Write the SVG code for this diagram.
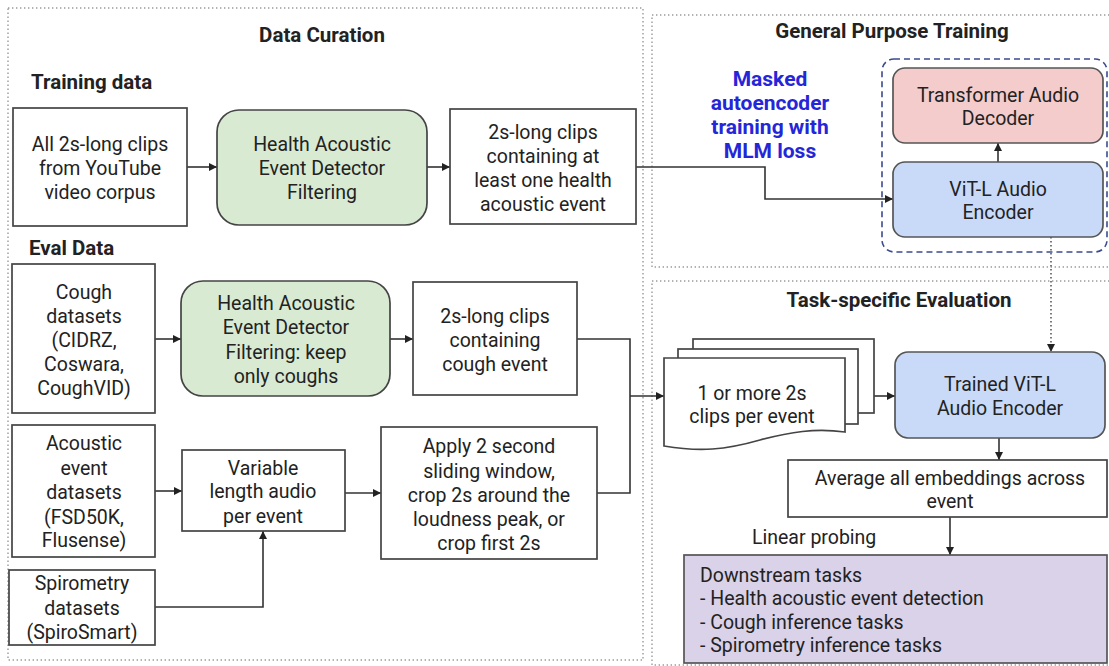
<svg xmlns="http://www.w3.org/2000/svg" width="1109" height="666" viewBox="0 0 1109 666">
<defs>
<style>
text{font-family:Roboto,"Liberation Sans",Arial,sans-serif;fill:#222;font-size:19.5px}
.c{text-anchor:middle;dominant-baseline:central}
.l{dominant-baseline:central}
.t{font-weight:bold;font-size:20.5px}
.blue{fill:#2626d9;font-weight:bold;font-size:21px}
.box{fill:#fff;stroke:#444;stroke-width:1.7}
.green{fill:#d9ead3;stroke:#444;stroke-width:1.7}
.pink{fill:#f4cccc;stroke:#555;stroke-width:1.7}
.bluebox{fill:#c9daf8;stroke:#555;stroke-width:1.7}
.lav{fill:#d9d2e9;stroke:#555;stroke-width:1.7}
.region{fill:none;stroke:#9a9a9a;stroke-width:1.4;stroke-dasharray:1.4 2.6}
.dash{fill:none;stroke:#3b4a8e;stroke-width:1.6;stroke-dasharray:6 4}
.conn{fill:none;stroke:#333;stroke-width:1.6}
.dot{fill:none;stroke:#444;stroke-width:1.4;stroke-dasharray:1.5 2.5}
</style>
<marker id="ah" viewBox="0 0 10 10" refX="10" refY="5" markerWidth="8" markerHeight="8" markerUnits="userSpaceOnUse" orient="auto">
<path d="M0,0 L10,5 L0,10 Z" fill="#222"/>
</marker>
</defs>
<rect width="1109" height="666" fill="#fff"/>

<g id="regions">
<rect class="region" x="8" y="8" width="635" height="652"/>
<rect class="region" x="652" y="15" width="460" height="252"/>
<rect class="region" x="652" y="281" width="460" height="384"/>
<text class="c t" x="322" y="35">Data Curation</text>
<text class="l t" x="31" y="82">Training data</text>
<text class="l t" x="29" y="248">Eval Data</text>
<text class="c t" x="892" y="31">General Purpose Training</text>
<text class="c t" x="899" y="300">Task-specific Evaluation</text>
</g>

<g id="mlm-label">
<text class="c blue" x="770" y="79">Masked</text>
<text class="c blue" x="770" y="103">autoencoder</text>
<text class="c blue" x="770" y="127">training with</text>
<text class="c blue" x="770" y="151">MLM loss</text>
</g>

<g id="model-group">
<rect class="dash" x="882" y="59" width="225" height="193" rx="12"/>
</g>

<g id="connectors">
<path class="conn" d="M187,167 H217" marker-end="url(#ah)"/>
<path class="conn" d="M427,167 H450" marker-end="url(#ah)"/>
<path class="conn" d="M636,167 H765 V199 H893" marker-end="url(#ah)"/>
<path class="conn" d="M998,162 V143" marker-end="url(#ah)"/>
<path class="dot" d="M1051,237 V352" marker-end="url(#ah)"/>
<path class="conn" d="M155,339 H181" marker-end="url(#ah)"/>
<path class="conn" d="M390,339 H413" marker-end="url(#ah)"/>
<path class="conn" d="M577,339 H630 V493 H597"/>
<path class="conn" d="M630,396 H664" marker-end="url(#ah)"/>
<path class="conn" d="M155,491 H182" marker-end="url(#ah)"/>
<path class="conn" d="M345,493 H381" marker-end="url(#ah)"/>
<path class="conn" d="M155,607 H263 V531" marker-end="url(#ah)"/>
<path class="conn" d="M874,396 H895" marker-end="url(#ah)"/>
<path class="conn" d="M999,438 V460" marker-end="url(#ah)"/>
<path class="conn" d="M950,517 V555" marker-end="url(#ah)"/>
</g>

<g id="youtube-clips">
<rect class="box" x="13" y="108" width="174" height="118"/>
<text class="c" x="100" y="144">All 2s-long clips</text>
<text class="c" x="100" y="168">from YouTube</text>
<text class="c" x="100" y="192">video corpus</text>
</g>

<g id="hae-filter">
<rect class="green" x="217" y="110" width="210" height="115" rx="22"/>
<text class="c" x="322" y="144">Health Acoustic</text>
<text class="c" x="322" y="168">Event Detector</text>
<text class="c" x="322" y="192">Filtering</text>
</g>

<g id="health-clips">
<rect class="box" x="450" y="109" width="186" height="115"/>
<text class="c" x="543" y="132">2s-long clips</text>
<text class="c" x="543" y="156">containing at</text>
<text class="c" x="543" y="180">least one health</text>
<text class="c" x="543" y="204">acoustic event</text>
</g>

<g id="decoder">
<rect class="pink" x="893" y="68" width="210" height="75" rx="12"/>
<text class="c" x="998" y="95">Transformer Audio</text>
<text class="c" x="998" y="118">Decoder</text>
</g>

<g id="encoder">
<rect class="bluebox" x="893" y="162" width="210" height="75" rx="12"/>
<text class="c" x="998" y="189">ViT-L Audio</text>
<text class="c" x="998" y="212">Encoder</text>
</g>

<g id="cough-datasets">
<rect class="box" x="12" y="264" width="143" height="149"/>
<text class="c" x="84" y="292">Cough</text>
<text class="c" x="84" y="316">datasets</text>
<text class="c" x="84" y="340">(CIDRZ,</text>
<text class="c" x="84" y="364">Coswara,</text>
<text class="c" x="84" y="388">CoughVID)</text>
</g>

<g id="cough-filter">
<rect class="green" x="181" y="281" width="209" height="115" rx="22"/>
<text class="c" x="286" y="303">Health Acoustic</text>
<text class="c" x="286" y="327">Event Detector</text>
<text class="c" x="286" y="352">Filtering: keep</text>
<text class="c" x="286" y="376">only coughs</text>
</g>

<g id="cough-clips">
<rect class="box" x="413" y="282" width="164" height="113"/>
<text class="c" x="495" y="316">2s-long clips</text>
<text class="c" x="495" y="340">containing</text>
<text class="c" x="495" y="364">cough event</text>
</g>

<g id="acoustic-datasets">
<rect class="box" x="12" y="425" width="143" height="132"/>
<text class="c" x="84" y="443">Acoustic</text>
<text class="c" x="84" y="468">event</text>
<text class="c" x="84" y="492">datasets</text>
<text class="c" x="84" y="517">(FSD50K,</text>
<text class="c" x="84" y="540">Flusense)</text>
</g>

<g id="variable-audio">
<rect class="box" x="182" y="450" width="163" height="81"/>
<text class="c" x="263" y="468">Variable</text>
<text class="c" x="263" y="491">length audio</text>
<text class="c" x="263" y="516">per event</text>
</g>

<g id="sliding-window">
<rect class="box" x="381" y="427" width="216" height="132"/>
<text class="c" x="489" y="446">Apply 2 second</text>
<text class="c" x="489" y="471">sliding window,</text>
<text class="c" x="489" y="495">crop 2s around the</text>
<text class="c" x="489" y="519">loudness peak, or</text>
<text class="c" x="489" y="543">crop first 2s</text>
</g>

<g id="spirometry-datasets">
<rect class="box" x="9" y="570" width="146" height="75"/>
<text class="c" x="82" y="583">Spirometry</text>
<text class="c" x="82" y="608">datasets</text>
<text class="c" x="82" y="632">(SpiroSmart)</text>
</g>

<g id="clip-stack">
<rect class="box" x="693" y="339" width="181" height="74"/>
<rect class="box" x="678" y="349" width="180" height="75"/>
<path class="box" d="M664,358 H845 V432 C815,428 790,432 760,440 C725,450 700,452 664,446 Z"/>
<text class="c" x="752" y="393">1 or more 2s</text>
<text class="c" x="752" y="416">clips per event</text>
</g>

<g id="trained-encoder">
<rect class="bluebox" x="895" y="352" width="210" height="86" rx="13"/>
<text class="c" x="1000" y="384">Trained ViT-L</text>
<text class="c" x="1000" y="408">Audio Encoder</text>
</g>

<g id="average">
<rect class="box" x="788" y="460" width="319" height="57"/>
<text class="c" x="950" y="478">Average all embeddings across</text>
<text class="c" x="950" y="501">event</text>
</g>

<g id="linear-probing-label">
<text class="l" x="752" y="537">Linear probing</text>
</g>

<g id="downstream">
<rect class="lav" x="684" y="555" width="423" height="108"/>
<text class="l" x="700" y="575">Downstream tasks</text>
<text class="l" x="700" y="598">- Health acoustic event detection</text>
<text class="l" x="700" y="622">- Cough inference tasks</text>
<text class="l" x="700" y="645">- Spirometry inference tasks</text>
</g>
</svg>
